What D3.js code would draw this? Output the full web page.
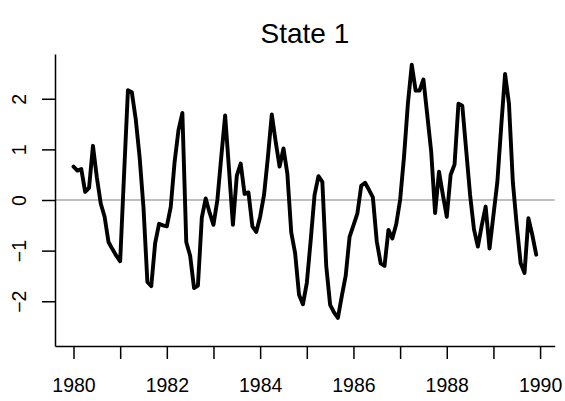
<!DOCTYPE html>
<html>
<head>
<meta charset="utf-8">
<script src="https://cdn.jsdelivr.net/npm/d3@7"></script>
<style>
  html, body { margin: 0; padding: 0; background: #fff; }
  svg { display: block; }
  text { font-family: "Liberation Sans", Arial, Helvetica, sans-serif; }
</style>
</head>
<body>
<script>
// ---- data (monthly series, starting Jan 1980) ----
const title = "State 1";
const startYear = 1980;
const periodsPerYear = 12;
const values = [
  0.66, 0.58, 0.61, 0.16, 0.24, 1.07, 0.45, -0.07, -0.33, -0.83, -0.97, -1.10,
  -1.21, 0.50, 2.17, 2.13, 1.60, 0.85, -0.15, -1.62, -1.70, -0.85, -0.47, -0.50,
  -0.52, -0.14, 0.75, 1.38, 1.72, -0.83, -1.10, -1.74, -1.69, -0.35, 0.03, -0.25,
  -0.49, 0.00, 0.85, 1.67, 0.60, -0.49, 0.48, 0.72, 0.12, 0.15, -0.52, -0.63,
  -0.33, 0.10, 0.85, 1.69, 1.15, 0.66, 1.02, 0.52, -0.64, -1.05, -1.87, -2.06,
  -1.64, -0.80, 0.10, 0.47, 0.36, -1.30, -2.07, -2.22, -2.33, -1.90, -1.50, -0.73,
  -0.50, -0.27, 0.28, 0.34, 0.20, 0.05, -0.82, -1.25, -1.30, -0.59, -0.76, -0.48,
  0.00, 0.85, 1.90, 2.67, 2.16, 2.16, 2.38, 1.67, 0.95, -0.26, 0.56, 0.10,
  -0.33, 0.50, 0.70, 1.90, 1.86, 0.98, 0.10, -0.58, -0.92, -0.50, -0.13, -0.96,
  -0.30, 0.35, 1.45, 2.49, 1.90, 0.35, -0.50, -1.25, -1.44, -0.36, -0.69, -1.08
];
const xTicks = [1980, 1981, 1982, 1983, 1984, 1985, 1986, 1987, 1988, 1989, 1990];
const xTickLabels = ["1980", "", "1982", "", "1984", "", "1986", "", "1988", "", "1990"];
const yTicks = [-2, -1, 0, 1, 2];
const yTickLabels = ["\u22122", "\u22121", "0", "1", "2"];
const refLine = 0;

// ---- layout ----
const W = 565, H = 401;
const plot = { left: 55, right: 554.7, top: 54, bottom: 346 };

const series = values.map((v, i) => ({ t: startYear + i / periodsPerYear, v }));

const tMin = series[0].t, tMax = series[series.length - 1].t;
const tPad = (tMax - tMin) * 0.04;
const vMax = d3.max(values, d => Math.abs(d));
const vPad = vMax * 2 * 0.04;

const x = d3.scaleLinear().domain([tMin - tPad, tMax + tPad]).range([plot.left, plot.right]);
const y = d3.scaleLinear().domain([-vMax - vPad, vMax + vPad]).range([plot.bottom, plot.top]);

const svg = d3.select("body").append("svg").attr("width", W).attr("height", H);

// reference line at 0
svg.append("line")
  .attr("x1", plot.left).attr("x2", plot.right)
  .attr("y1", y(refLine)).attr("y2", y(refLine))
  .attr("stroke", "#bebebe").attr("stroke-width", 2);

// series line
svg.append("path")
  .datum(series)
  .attr("fill", "none")
  .attr("stroke", "#000")
  .attr("stroke-width", 3.9)
  .attr("stroke-linejoin", "round")
  .attr("stroke-linecap", "round")
  .attr("d", d3.line().x(d => x(d.t)).y(d => y(d.v)));

// x axis
const xAxis = d3.axisBottom(x)
  .tickValues(xTicks)
  .tickFormat((d, i) => xTickLabels[i])
  .tickSizeInner(13).tickSizeOuter(0).tickPadding(19);
const gx = svg.append("g").attr("transform", `translate(0,${plot.bottom})`).call(xAxis);
gx.selectAll("text").attr("font-size", 19.5).attr("fill", "#000")
  .attr("font-family", "'Liberation Sans', Arial, sans-serif");
gx.selectAll("line, path").attr("stroke", "#000").attr("stroke-width", 1.5);

// y axis
const yAxis = d3.axisLeft(y)
  .tickValues(yTicks)
  .tickFormat((d, i) => yTickLabels[i])
  .tickSizeInner(13).tickSizeOuter(0);
const gy = svg.append("g").attr("transform", `translate(${plot.left},0)`).call(yAxis);
gy.selectAll("line, path").attr("stroke", "#000").attr("stroke-width", 1.5);
gy.selectAll("text").remove();
gy.selectAll(".tick").append("text")
  .attr("transform", "translate(-29,0) rotate(-90)")
  .attr("text-anchor", "middle")
  .attr("dy", 0)
  .attr("font-size", 19.5)
  .attr("fill", "#000")
  .attr("font-family", "'Liberation Sans', Arial, sans-serif")
  .text((d, i) => yTickLabels[i]);

// title
svg.append("text")
  .attr("x", (plot.left + plot.right) / 2)
  .attr("y", 43)
  .attr("text-anchor", "middle")
  .attr("font-size", 28)
  .attr("fill", "#000")
  .text(title);
</script>
</body>
</html>
